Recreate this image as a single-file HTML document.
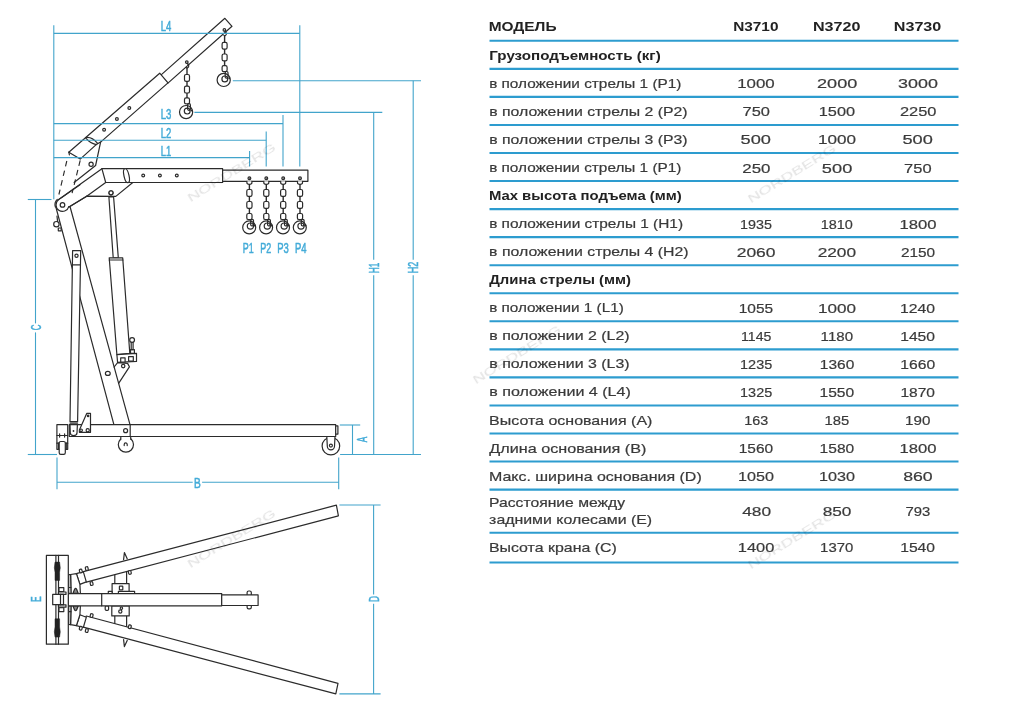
<!DOCTYPE html>
<html lang="ru"><head><meta charset="utf-8"><title>N3710 N3720 N3730</title>
<style>
html,body{margin:0;padding:0;background:#fff;}
body{width:1024px;height:713px;overflow:hidden;font-family:"Liberation Sans",sans-serif;}
svg{display:block;will-change:transform;}
.k{stroke:#2b2b2b;stroke-width:1.2;stroke-linejoin:round;stroke-linecap:round;}
.k2{stroke:#2b2b2b;stroke-width:1.4;}
.kd{stroke:#2b2b2b;stroke-width:1.15;stroke-dasharray:5.6 4.2;}
.b{stroke:#42a4cb;stroke-width:1.1;}
.tl{stroke:#2d9ccf;stroke-width:2.1;}
.bt{fill:#43abd8;stroke:#43abd8;stroke-width:0.5;font-family:"Liberation Sans",sans-serif;}
.tr{stroke:#3a3a3a;stroke-width:0.2;fill:#3a3a3a;font-family:"Liberation Sans",sans-serif;font-size:12.6px;}
.tn{stroke:#3a3a3a;stroke-width:0.2;fill:#3a3a3a;font-family:"Liberation Sans",sans-serif;font-size:13.7px;}
.tb{fill:#222;font-family:"Liberation Sans",sans-serif;font-size:12.4px;font-weight:bold;}
.th{fill:#222;font-family:"Liberation Sans",sans-serif;font-size:12px;font-weight:bold;}
.wm{fill:#e3e3e3;font-family:"Liberation Sans",sans-serif;font-size:10.5px;}
</style></head><body>
<svg width="1024" height="713" viewBox="0 0 1024 713">
<rect width="1024" height="713" fill="#fff"/>
<g id="side">
<path class="k" d="M224.90,18.30 L232.00,26.31 L167.64,83.35 L160.55,75.35 Z" fill="#fff"/>
<path class="k" d="M159.70,73.20 L168.00,82.90 L100.60,142.10 L96.20,144.60 L80.20,159.10 L68.80,152.20 Z" fill="#fff"/>
<path class="k" fill="#fff" d="M85.5,137.7 Q91.5,136.2 97.6,143.4 L96.2,144.6 Q90,143.5 85.5,137.7 Z"/>
<line class="k" x1="68.80" y1="152.20" x2="69.40" y2="154.80"/>
<circle class="k" cx="129.30" cy="108.00" r="1.40" fill="#fff"/>
<circle class="k" cx="116.90" cy="119.00" r="1.40" fill="#fff"/>
<circle class="k" cx="104.10" cy="129.80" r="1.40" fill="#fff"/>
<path class="k" d="M100.60,142.10 L95.60,165.50 L74.10,182.50" fill="none"/>
<circle class="k" cx="91.10" cy="164.20" r="2.10" fill="#fff"/>
<circle class="k" cx="224.40" cy="29.90" r="1.30" fill="#fff"/>
<path class="k" fill="none" d="M224.70,31.20 q2.2,1.2 1.4,3.6 q-1,1.6 -2.2,0.6"/>
<circle class="k" cx="186.80" cy="62.10" r="1.30" fill="#fff"/>
<path class="k" fill="none" d="M187.10,63.40 q2.2,1.2 1.4,3.6 q-1,1.6 -2.2,0.6"/>
<line class="k2" x1="224.60" y1="35.10" x2="224.60" y2="42.30"/>
<rect class="k" x="222.10" y="42.30" width="5.00" height="6.80" rx="1.60" fill="#fff"/>
<line class="k2" x1="224.60" y1="49.10" x2="224.60" y2="54.00"/>
<rect class="k" x="222.10" y="54.00" width="5.00" height="6.80" rx="1.60" fill="#fff"/>
<line class="k2" x1="224.60" y1="60.80" x2="224.60" y2="65.70"/>
<rect class="k" x="222.10" y="65.70" width="5.00" height="6.00" rx="1.60" fill="#fff"/>
<circle class="k" cx="223.70" cy="79.90" r="6.60" fill="#fff"/>
<circle class="k" cx="224.80" cy="78.90" r="2.90" fill="#fff"/>
<rect class="k" x="225.20" y="71.50" width="2.80" height="6.60" rx="1.20" fill="none"/>
<circle cx="229.30" cy="78.30" r="1.0" fill="#2b2b2b"/>
<line class="k2" x1="187.00" y1="67.30" x2="187.00" y2="74.50"/>
<rect class="k" x="184.50" y="74.50" width="5.00" height="6.80" rx="1.60" fill="#fff"/>
<line class="k2" x1="187.00" y1="81.30" x2="187.00" y2="86.20"/>
<rect class="k" x="184.50" y="86.20" width="5.00" height="6.80" rx="1.60" fill="#fff"/>
<line class="k2" x1="187.00" y1="93.00" x2="187.00" y2="97.90"/>
<rect class="k" x="184.50" y="97.90" width="5.00" height="6.00" rx="1.60" fill="#fff"/>
<circle class="k" cx="186.10" cy="112.10" r="6.60" fill="#fff"/>
<circle class="k" cx="187.20" cy="111.10" r="2.90" fill="#fff"/>
<rect class="k" x="187.60" y="103.70" width="2.80" height="6.60" rx="1.20" fill="none"/>
<circle cx="191.70" cy="110.50" r="1.0" fill="#2b2b2b"/>
<path class="k" d="M55.86,207.00 L69.58,205.00 L130.00,424.70 L113.90,424.70 Z" fill="#fff"/>
<ellipse class="k" cx="107.8" cy="373.4" rx="2.4" ry="2.0" fill="#fff"/>
<circle class="k" cx="56.40" cy="224.20" r="2.70" fill="#fff"/>
<rect class="k" x="58.30" y="228.00" width="2.90" height="2.80" rx="0.00" fill="#fff"/>
<line class="k" x1="57.00" y1="216.20" x2="57.60" y2="221.60"/>
<path class="k" d="M58.80,199.60 L101.90,168.70 L222.60,168.70 L222.60,182.50 L132.80,182.50 L115.80,196.40 L86.70,196.20 L69.00,206.90 L62.50,204.90 Z" fill="#fff"/>
<line class="k" x1="101.90" y1="168.70" x2="105.70" y2="182.50"/>
<line class="k" x1="105.70" y1="182.50" x2="132.80" y2="182.50"/>
<line class="k" x1="105.70" y1="182.50" x2="86.70" y2="196.20"/>
<ellipse class="k" cx="126.5" cy="175.7" rx="2.5" ry="7.1" fill="#fff" transform="rotate(-13 126.5 175.7)"/>
<circle class="k" cx="143.20" cy="175.50" r="1.40" fill="#fff"/>
<circle class="k" cx="159.90" cy="175.50" r="1.40" fill="#fff"/>
<circle class="k" cx="176.80" cy="175.50" r="1.40" fill="#fff"/>
<circle class="k" cx="111.00" cy="192.80" r="2.00" fill="#fff"/>
<rect class="k" x="222.60" y="170.20" width="85.30" height="11.10" rx="0.00" fill="#fff"/>
<circle class="k" cx="249.40" cy="178.20" r="1.40" fill="#fff"/>
<circle cx="249.4" cy="178.2" r="0.6" fill="#2b2b2b"/>
<path class="k" fill="#fff" d="M246.90,181.30 V182.80 Q246.90,184.30 249.40,184.30 Q251.90,184.30 251.90,182.80 V181.30"/>
<line class="k2" x1="249.40" y1="184.30" x2="249.40" y2="189.50"/>
<rect class="k" x="246.80" y="189.50" width="5.20" height="6.80" rx="1.60" fill="#fff"/>
<line class="k2" x1="249.40" y1="196.30" x2="249.40" y2="201.50"/>
<rect class="k" x="246.80" y="201.50" width="5.20" height="6.80" rx="1.60" fill="#fff"/>
<line class="k2" x1="249.40" y1="208.30" x2="249.40" y2="213.50"/>
<rect class="k" x="246.80" y="213.50" width="5.20" height="6.00" rx="1.60" fill="#fff"/>
<circle class="k" cx="249.20" cy="227.40" r="6.50" fill="#fff"/>
<circle class="k" cx="250.40" cy="226.10" r="3.10" fill="#fff"/>
<rect class="k" x="250.70" y="219.30" width="2.80" height="6.60" rx="1.20" fill="none"/>
<circle cx="254.70" cy="225.60" r="1.0" fill="#2b2b2b"/>
<circle class="k" cx="266.30" cy="178.20" r="1.40" fill="#fff"/>
<circle cx="266.3" cy="178.2" r="0.6" fill="#2b2b2b"/>
<path class="k" fill="#fff" d="M263.80,181.30 V182.80 Q263.80,184.30 266.30,184.30 Q268.80,184.30 268.80,182.80 V181.30"/>
<line class="k2" x1="266.30" y1="184.30" x2="266.30" y2="189.50"/>
<rect class="k" x="263.70" y="189.50" width="5.20" height="6.80" rx="1.60" fill="#fff"/>
<line class="k2" x1="266.30" y1="196.30" x2="266.30" y2="201.50"/>
<rect class="k" x="263.70" y="201.50" width="5.20" height="6.80" rx="1.60" fill="#fff"/>
<line class="k2" x1="266.30" y1="208.30" x2="266.30" y2="213.50"/>
<rect class="k" x="263.70" y="213.50" width="5.20" height="6.00" rx="1.60" fill="#fff"/>
<circle class="k" cx="266.10" cy="227.40" r="6.50" fill="#fff"/>
<circle class="k" cx="267.30" cy="226.10" r="3.10" fill="#fff"/>
<rect class="k" x="267.60" y="219.30" width="2.80" height="6.60" rx="1.20" fill="none"/>
<circle cx="271.60" cy="225.60" r="1.0" fill="#2b2b2b"/>
<circle class="k" cx="283.20" cy="178.20" r="1.40" fill="#fff"/>
<circle cx="283.2" cy="178.2" r="0.6" fill="#2b2b2b"/>
<path class="k" fill="#fff" d="M280.70,181.30 V182.80 Q280.70,184.30 283.20,184.30 Q285.70,184.30 285.70,182.80 V181.30"/>
<line class="k2" x1="283.20" y1="184.30" x2="283.20" y2="189.50"/>
<rect class="k" x="280.60" y="189.50" width="5.20" height="6.80" rx="1.60" fill="#fff"/>
<line class="k2" x1="283.20" y1="196.30" x2="283.20" y2="201.50"/>
<rect class="k" x="280.60" y="201.50" width="5.20" height="6.80" rx="1.60" fill="#fff"/>
<line class="k2" x1="283.20" y1="208.30" x2="283.20" y2="213.50"/>
<rect class="k" x="280.60" y="213.50" width="5.20" height="6.00" rx="1.60" fill="#fff"/>
<circle class="k" cx="283.00" cy="227.40" r="6.50" fill="#fff"/>
<circle class="k" cx="284.20" cy="226.10" r="3.10" fill="#fff"/>
<rect class="k" x="284.50" y="219.30" width="2.80" height="6.60" rx="1.20" fill="none"/>
<circle cx="288.50" cy="225.60" r="1.0" fill="#2b2b2b"/>
<circle class="k" cx="300.00" cy="178.20" r="1.40" fill="#fff"/>
<circle cx="300.0" cy="178.2" r="0.6" fill="#2b2b2b"/>
<path class="k" fill="#fff" d="M297.50,181.30 V182.80 Q297.50,184.30 300.00,184.30 Q302.50,184.30 302.50,182.80 V181.30"/>
<line class="k2" x1="300.00" y1="184.30" x2="300.00" y2="189.50"/>
<rect class="k" x="297.40" y="189.50" width="5.20" height="6.80" rx="1.60" fill="#fff"/>
<line class="k2" x1="300.00" y1="196.30" x2="300.00" y2="201.50"/>
<rect class="k" x="297.40" y="201.50" width="5.20" height="6.80" rx="1.60" fill="#fff"/>
<line class="k2" x1="300.00" y1="208.30" x2="300.00" y2="213.50"/>
<rect class="k" x="297.40" y="213.50" width="5.20" height="6.00" rx="1.60" fill="#fff"/>
<circle class="k" cx="299.80" cy="227.40" r="6.50" fill="#fff"/>
<circle class="k" cx="301.00" cy="226.10" r="3.10" fill="#fff"/>
<rect class="k" x="301.30" y="219.30" width="2.80" height="6.60" rx="1.20" fill="none"/>
<circle cx="305.30" cy="225.60" r="1.0" fill="#2b2b2b"/>
<circle cx="62.5" cy="204.9" r="6.5" fill="#fff"/>
<line class="k" x1="58.80" y1="199.60" x2="80.00" y2="184.66"/>
<line class="k" x1="69.00" y1="206.90" x2="86.70" y2="196.20"/>
<path class="k" fill="none" d="M58.76,199.59 A6.5,6.5 0 1 0 68.8,206.6"/>
<path class="k" fill="none" stroke-width="1.5" d="M57.3,199.4 A7.3,7.3 0 0 0 55.4,207.0"/>
<circle class="k" cx="62.50" cy="204.90" r="2.30" fill="#fff"/>
<line class="kd" x1="66.8" y1="161" x2="58.9" y2="194.5"/>
<line class="kd" x1="80.2" y1="160.4" x2="72.1" y2="193.2"/>
<path class="k" d="M72.60,250.60 L80.70,250.60 L77.60,421.60 L70.00,421.60 Z" fill="#fff"/>
<line class="k" x1="72.40" y1="264.90" x2="80.45" y2="264.90"/>
<circle class="k" cx="76.50" cy="255.80" r="1.60" fill="#fff"/>
<line class="k" x1="70.00" y1="423.10" x2="77.60" y2="423.10"/>
<path class="k" d="M108.90,197.00 L113.60,197.00 L118.30,257.80 L113.20,257.80 Z" fill="#fff"/>
<circle class="k" cx="111.00" cy="192.80" r="2.00" fill="#fff"/>
<path class="k" d="M109.20,257.80 L122.70,257.80 L129.80,353.30 L116.90,354.70 Z" fill="#fff"/>
<line class="k" x1="109.30" y1="260.00" x2="122.90" y2="260.00"/>
<path class="k" d="M116.90,354.70 L136.50,353.30 L136.50,361.40 L117.60,362.40 Z" fill="#fff"/>
<rect class="k" x="120.70" y="357.90" width="4.40" height="4.10" rx="0.00" fill="#fff"/>
<rect class="k" x="128.60" y="356.60" width="4.70" height="4.40" rx="0.00" fill="#fff"/>
<rect class="k" x="130.50" y="349.70" width="3.90" height="3.70" rx="0.00" fill="#fff"/>
<rect class="k" x="131.20" y="342.30" width="1.90" height="7.40" rx="0.00" fill="#fff"/>
<circle class="k" cx="132.10" cy="340.00" r="2.40" fill="#fff"/>
<path class="k" d="M114.13,367.00 L117.60,362.60 L127.60,363.40 L129.40,366.80 L118.62,383.30" fill="none"/>
<circle class="k" cx="123.20" cy="366.10" r="1.70" fill="#fff"/>
<circle class="k" cx="125.90" cy="444.60" r="7.60" fill="#fff"/>
<rect x="120.8" y="436" width="9.9" height="4.2" fill="#fff"/>
<line class="k" x1="120.80" y1="436.50" x2="120.80" y2="439.60"/>
<line class="k" x1="130.70" y1="436.50" x2="130.70" y2="439.30"/>
<path class="k" fill="none" d="M124.2,445.6 V444.4 A1.5,1.5 0 0 1 127.2,444.4 V445.6"/>
<circle class="k" cx="330.90" cy="446.10" r="8.80" fill="#fff"/>
<path class="k" fill="#fff" d="M326.8,436.5 L327.3,446.2 A3.6,3.6 0 0 0 334.5,446.2 L335.0,436.5"/>
<circle class="k" cx="330.90" cy="445.60" r="1.50" fill="#fff"/>
<rect class="k" x="69.30" y="424.70" width="266.40" height="11.80" rx="0.00" fill="#fff"/>
<rect class="k" x="335.70" y="425.90" width="2.20" height="8.20" rx="0.00" fill="#fff"/>
<line class="k" x1="130.20" y1="424.70" x2="130.20" y2="436.50"/>
<circle class="k" cx="125.60" cy="430.70" r="2.00" fill="#fff"/>
<path class="k" fill="#fff" d="M70.0,424.7 L70.3,433.0 Q70.5,435.6 73.6,435.6 Q76.8,435.6 77.0,433.0 L77.4,424.7 Z"/>
<circle cx="73.5" cy="431.0" r="0.9" fill="#2b2b2b"/>
<path class="k" d="M86.70,413.40 L90.50,413.40 L90.50,432.30 L79.40,432.30 L79.40,430.00 Z" fill="#fff"/>
<circle class="k" cx="88.10" cy="415.90" r="0.70" fill="#fff"/>
<circle class="k" cx="81.10" cy="430.30" r="1.30" fill="#fff"/>
<circle class="k" cx="87.70" cy="430.30" r="1.60" fill="#fff"/>
<rect class="k" x="56.90" y="424.70" width="10.80" height="24.60" rx="0.00" fill="#fff"/>
<line class="k" x1="56.90" y1="435.50" x2="67.70" y2="435.50"/>
<line class="k" x1="56.90" y1="443.20" x2="67.70" y2="443.20"/>
<line class="k" x1="59.60" y1="433.90" x2="59.60" y2="437.10"/>
<line class="k" x1="64.60" y1="433.90" x2="64.60" y2="437.10"/>
<line class="k" x1="58.40" y1="443.20" x2="58.40" y2="449.30"/>
<line class="k" x1="66.30" y1="443.20" x2="66.30" y2="449.30"/>
<rect class="k" x="59.20" y="441.50" width="6.10" height="12.80" rx="1.60" fill="#fff"/>
</g>
<g id="top">
<rect class="k" x="114.80" y="570.00" width="11.80" height="59.00" rx="0.00" fill="#fff"/>
<path class="k" d="M80.50,572.30 L336.40,505.20 L338.40,515.80 L86.30,582.20 Z" fill="#fff"/>
<path class="k" d="M80.50,626.40 L335.80,693.90 L338.00,683.40 L86.30,616.00 Z" fill="#fff"/>
<path class="k" d="M76.40,573.60 L83.30,571.70 L86.30,581.90 L79.90,584.40 Z" fill="#fff"/>
<path class="k" d="M76.40,625.60 L83.30,627.50 L86.30,617.30 L79.90,614.80 Z" fill="#fff"/>
<path class="k" d="M70.60,574.50 L76.40,573.60 L79.90,584.40 L80.40,593.60 L71.00,593.60 Z" fill="#fff"/>
<path class="k" d="M70.60,624.70 L76.40,625.60 L79.90,614.80 L80.40,605.60 L71.00,605.60 Z" fill="#fff"/>
<path class="k" d="M68.70,574.70 L70.60,574.50 L71.00,593.40 L68.70,593.40 Z" fill="#fff"/>
<line class="k" x1="68.70" y1="587.50" x2="70.90" y2="587.50"/>
<path class="k" fill="#8a8a8a" d="M72.9,593.40 L74.6,589.30 Q75.6,587.60 76.6,589.30 L78.3,593.40 Z"/>
<path class="k" d="M68.70,624.50 L70.60,624.70 L71.00,605.80 L68.70,605.80 Z" fill="#fff"/>
<line class="k" x1="68.70" y1="611.70" x2="70.90" y2="611.70"/>
<path class="k" fill="#8a8a8a" d="M72.9,605.80 L74.6,609.90 Q75.6,611.60 76.6,609.90 L78.3,605.80 Z"/>
<rect class="k" x="79.50" y="569.20" width="2.6" height="3.6" rx="0.9" fill="#fff" transform="rotate(-14 80.80 571.00)"/>
<rect class="k" x="79.50" y="626.40" width="2.6" height="3.6" rx="0.9" fill="#fff" transform="rotate(14 80.80 628.20)"/>
<rect class="k" x="85.50" y="566.80" width="2.6" height="3.6" rx="0.9" fill="#fff" transform="rotate(-14 86.80 568.60)"/>
<rect class="k" x="85.50" y="628.80" width="2.6" height="3.6" rx="0.9" fill="#fff" transform="rotate(14 86.80 630.60)"/>
<rect class="k" x="90.30" y="581.80" width="2.6" height="3.6" rx="0.9" fill="#fff" transform="rotate(-14 91.60 583.60)"/>
<rect class="k" x="90.30" y="613.80" width="2.6" height="3.6" rx="0.9" fill="#fff" transform="rotate(14 91.60 615.60)"/>
<rect class="k" x="128.50" y="570.60" width="2.6" height="3.6" rx="0.9" fill="#fff" transform="rotate(-14 129.80 572.40)"/>
<rect class="k" x="128.50" y="625.00" width="2.6" height="3.6" rx="0.9" fill="#fff" transform="rotate(14 129.80 626.80)"/>
<path class="k" fill="none" d="M123.6,559.6 L124.4,552.6 L127.2,558.8"/>
<path class="k" fill="none" d="M123.6,639.60 L124.4,646.60 L127.2,640.40"/>
<rect class="k" x="112.10" y="583.60" width="17.00" height="10.00" rx="0.00" fill="#fff"/>
<rect class="k" x="119.40" y="586.10" width="3.40" height="3.80" rx="0.50" fill="#fff"/>
<rect class="k" x="118.40" y="591.30" width="16.20" height="2.30" rx="0.00" fill="#fff"/>
<rect class="k" x="108.30" y="591.30" width="3.80" height="2.30" rx="0.00" fill="#fff"/>
<rect class="k" x="111.80" y="605.80" width="17.40" height="10.10" rx="0.00" fill="#fff"/>
<circle class="k" cx="120.30" cy="611.50" r="1.60" fill="#fff"/>
<circle class="k" cx="121.40" cy="608.20" r="1.20" fill="#fff"/>
<rect class="k" x="105.20" y="605.80" width="3.40" height="4.60" rx="1.20" fill="#fff"/>
<rect class="k" x="68.30" y="593.60" width="153.40" height="12.20" rx="0.00" fill="#fff"/>
<line class="k" x1="101.70" y1="593.60" x2="101.70" y2="605.80"/>
<rect class="k" x="247.10" y="591.00" width="4.20" height="17.80" rx="1.60" fill="#fff"/>
<rect class="k" x="221.70" y="594.90" width="36.40" height="10.60" rx="0.00" fill="#fff"/>
<rect class="k" x="46.40" y="555.40" width="21.90" height="88.80" rx="0.00" fill="#fff"/>
<line class="k" x1="55.90" y1="555.40" x2="55.90" y2="644.20"/>
<line class="k" x1="58.50" y1="555.40" x2="58.50" y2="644.20"/>
<path fill="#222" stroke="#222" stroke-width="0.5" d="M55.00,562.10 L59.60,562.10 Q60.90,568.25 59.60,572.25 L59.60,580.40 L55.00,580.40 L55.00,572.25 Q53.70,568.25 55.00,562.10 Z"/>
<g transform="translate(0 1199.20) scale(1 -1)">
<path fill="#222" stroke="#222" stroke-width="0.5" d="M55.00,562.10 L59.60,562.10 Q60.90,568.25 59.60,572.25 L59.60,580.40 L55.00,580.40 L55.00,572.25 Q53.70,568.25 55.00,562.10 Z"/>
</g>
<rect class="k" x="59.00" y="587.60" width="4.80" height="4.00" rx="0.00" fill="#fff"/>
<rect class="k" x="59.00" y="607.60" width="4.80" height="4.00" rx="0.00" fill="#fff"/>
<rect class="k" x="58.50" y="592.00" width="7.50" height="2.40" rx="0.00" fill="#fff"/>
<rect class="k" x="58.50" y="604.80" width="7.50" height="2.40" rx="0.00" fill="#fff"/>
<rect class="k" x="52.70" y="594.30" width="10.80" height="10.40" rx="0.00" fill="#fff"/>
<line class="k" x1="60.50" y1="594.30" x2="60.50" y2="604.70"/>
</g>
<g id="dims">
<line class="b" x1="53.80" y1="25.30" x2="53.80" y2="199.30"/>
<line class="b" x1="53.80" y1="33.40" x2="299.80" y2="33.40"/>
<line class="b" x1="299.80" y1="25.30" x2="299.80" y2="166.60"/>
<line class="b" x1="53.80" y1="123.60" x2="283.00" y2="123.60"/>
<line class="b" x1="283.00" y1="115.00" x2="283.00" y2="166.60"/>
<line class="b" x1="53.80" y1="140.30" x2="266.20" y2="140.30"/>
<line class="b" x1="266.20" y1="131.50" x2="266.20" y2="166.60"/>
<line class="b" x1="53.80" y1="157.60" x2="249.60" y2="157.60"/>
<line class="b" x1="249.60" y1="151.00" x2="249.60" y2="166.60"/>
<line class="b" x1="232.80" y1="80.80" x2="421.00" y2="80.80"/>
<line class="b" x1="413.20" y1="80.80" x2="413.20" y2="259.80"/>
<line class="b" x1="413.20" y1="275.20" x2="413.20" y2="454.40"/>
<line class="b" x1="194.40" y1="112.40" x2="382.30" y2="112.40"/>
<line class="b" x1="373.70" y1="112.40" x2="373.70" y2="259.80"/>
<line class="b" x1="373.70" y1="275.20" x2="373.70" y2="454.40"/>
<line class="b" x1="340.10" y1="454.50" x2="421.00" y2="454.50"/>
<line class="b" x1="339.80" y1="425.00" x2="360.20" y2="425.00"/>
<line class="b" x1="352.50" y1="425.00" x2="352.50" y2="454.50"/>
<line class="b" x1="27.80" y1="199.50" x2="51.50" y2="199.50"/>
<line class="b" x1="35.50" y1="199.50" x2="35.50" y2="323.40"/>
<line class="b" x1="35.50" y1="332.40" x2="35.50" y2="454.50"/>
<line class="b" x1="27.80" y1="454.50" x2="57.00" y2="454.50"/>
<line class="b" x1="57.00" y1="457.50" x2="57.00" y2="489.30"/>
<line class="b" x1="338.70" y1="457.50" x2="338.70" y2="489.30"/>
<line class="b" x1="57.00" y1="482.30" x2="192.70" y2="482.30"/>
<line class="b" x1="202.10" y1="482.30" x2="338.70" y2="482.30"/>
<line class="b" x1="339.40" y1="505.00" x2="380.60" y2="505.00"/>
<line class="b" x1="339.40" y1="693.90" x2="380.60" y2="693.90"/>
<line class="b" x1="373.60" y1="505.00" x2="373.60" y2="594.60"/>
<line class="b" x1="373.60" y1="603.80" x2="373.60" y2="693.90"/>
</g>
<g id="dimlabels">
<text class="bt" x="166.1" y="30.9" font-size="13.8" textLength="10.6" lengthAdjust="spacingAndGlyphs" text-anchor="middle">L4</text>
<text class="bt" x="166.1" y="118.8" font-size="13.8" textLength="10.7" lengthAdjust="spacingAndGlyphs" text-anchor="middle">L3</text>
<text class="bt" x="166.0" y="137.6" font-size="13.8" textLength="10.6" lengthAdjust="spacingAndGlyphs" text-anchor="middle">L2</text>
<text class="bt" x="166.0" y="156.2" font-size="13.8" textLength="10.5" lengthAdjust="spacingAndGlyphs" text-anchor="middle">L1</text>
<text class="bt" x="248.3" y="252.9" font-size="13.8" textLength="10.9" lengthAdjust="spacingAndGlyphs" text-anchor="middle">P1</text>
<text class="bt" x="265.8" y="252.9" font-size="13.8" textLength="11.0" lengthAdjust="spacingAndGlyphs" text-anchor="middle">P2</text>
<text class="bt" x="283.1" y="252.9" font-size="13.8" textLength="11.6" lengthAdjust="spacingAndGlyphs" text-anchor="middle">P3</text>
<text class="bt" x="300.7" y="252.9" font-size="13.8" textLength="11.6" lengthAdjust="spacingAndGlyphs" text-anchor="middle">P4</text>
<text class="bt" x="378.8" y="268.0" font-size="13.8" textLength="10.6" lengthAdjust="spacingAndGlyphs" text-anchor="middle" transform="rotate(-90 378.8 268.0)">H1</text>
<text class="bt" x="418.4" y="267.6" font-size="13.8" textLength="11.5" lengthAdjust="spacingAndGlyphs" text-anchor="middle" transform="rotate(-90 418.4 267.6)">H2</text>
<text class="bt" x="40.9" y="327.5" font-size="13.8" textLength="5.7" lengthAdjust="spacingAndGlyphs" text-anchor="middle" transform="rotate(-90 40.9 327.5)">C</text>
<text class="bt" x="367.3" y="439.6" font-size="13.8" textLength="5.5" lengthAdjust="spacingAndGlyphs" text-anchor="middle" transform="rotate(-90 367.3 439.6)">A</text>
<text class="bt" x="197.3" y="487.9" font-size="13.8" textLength="6.8" lengthAdjust="spacingAndGlyphs" text-anchor="middle">B</text>
<text class="bt" x="379.0" y="599.0" font-size="13.8" textLength="6.0" lengthAdjust="spacingAndGlyphs" text-anchor="middle" transform="rotate(-90 379.0 599.0)">D</text>
<text class="bt" x="40.9" y="599.2" font-size="13.8" textLength="5.6" lengthAdjust="spacingAndGlyphs" text-anchor="middle" transform="rotate(-90 40.9 599.2)">E</text>
</g>
<g id="table">
<line class="tl" x1="489.5" y1="40.80" x2="958.5" y2="40.80"/>
<line class="tl" x1="489.5" y1="68.85" x2="958.5" y2="68.85"/>
<line class="tl" x1="489.5" y1="96.90" x2="958.5" y2="96.90"/>
<line class="tl" x1="489.5" y1="124.95" x2="958.5" y2="124.95"/>
<line class="tl" x1="489.5" y1="153.00" x2="958.5" y2="153.00"/>
<line class="tl" x1="489.5" y1="181.05" x2="958.5" y2="181.05"/>
<line class="tl" x1="489.5" y1="209.10" x2="958.5" y2="209.10"/>
<line class="tl" x1="489.5" y1="237.15" x2="958.5" y2="237.15"/>
<line class="tl" x1="489.5" y1="265.20" x2="958.5" y2="265.20"/>
<line class="tl" x1="489.5" y1="293.25" x2="958.5" y2="293.25"/>
<line class="tl" x1="489.5" y1="321.30" x2="958.5" y2="321.30"/>
<line class="tl" x1="489.5" y1="349.35" x2="958.5" y2="349.35"/>
<line class="tl" x1="489.5" y1="377.40" x2="958.5" y2="377.40"/>
<line class="tl" x1="489.5" y1="405.45" x2="958.5" y2="405.45"/>
<line class="tl" x1="489.5" y1="433.50" x2="958.5" y2="433.50"/>
<line class="tl" x1="489.5" y1="461.55" x2="958.5" y2="461.55"/>
<line class="tl" x1="489.5" y1="489.60" x2="958.5" y2="489.60"/>
<line class="tl" x1="489.5" y1="532.70" x2="958.5" y2="532.70"/>
<line class="tl" x1="489.5" y1="562.50" x2="958.5" y2="562.50"/>
<text class="th" x="488.66" y="30.8" textLength="67.90" lengthAdjust="spacingAndGlyphs">МОДЕЛЬ</text>
<text class="th" x="733.20" y="30.5" textLength="45.26" lengthAdjust="spacingAndGlyphs">N3710</text>
<text class="th" x="812.91" y="30.5" textLength="47.51" lengthAdjust="spacingAndGlyphs">N3720</text>
<text class="th" x="893.76" y="30.5" textLength="47.60" lengthAdjust="spacingAndGlyphs">N3730</text>
<text class="tb" x="489.32" y="59.7" textLength="171.40" lengthAdjust="spacingAndGlyphs">Грузоподъемность (кг)</text>
<text class="tr" x="489.17" y="87.8" textLength="192.22" lengthAdjust="spacingAndGlyphs">в положении стрелы 1 (P1)</text>
<text class="tn" x="737.15" y="88.3" textLength="37.50" lengthAdjust="spacingAndGlyphs">1000</text>
<text class="tn" x="817.06" y="88.3" textLength="40.28" lengthAdjust="spacingAndGlyphs">2000</text>
<text class="tn" x="898.04" y="88.3" textLength="39.86" lengthAdjust="spacingAndGlyphs">3000</text>
<text class="tr" x="489.15" y="115.9" textLength="198.41" lengthAdjust="spacingAndGlyphs">в положении стрелы 2 (P2)</text>
<text class="tn" x="742.53" y="116.4" textLength="27.37" lengthAdjust="spacingAndGlyphs">750</text>
<text class="tn" x="818.81" y="116.4" textLength="36.32" lengthAdjust="spacingAndGlyphs">1500</text>
<text class="tn" x="899.90" y="116.4" textLength="36.51" lengthAdjust="spacingAndGlyphs">2250</text>
<text class="tr" x="489.15" y="143.9" textLength="198.41" lengthAdjust="spacingAndGlyphs">в положении стрелы 3 (P3)</text>
<text class="tn" x="740.62" y="144.4" textLength="30.39" lengthAdjust="spacingAndGlyphs">500</text>
<text class="tn" x="818.01" y="144.4" textLength="38.02" lengthAdjust="spacingAndGlyphs">1000</text>
<text class="tn" x="902.43" y="144.4" textLength="30.32" lengthAdjust="spacingAndGlyphs">500</text>
<text class="tr" x="489.17" y="172.0" textLength="192.22" lengthAdjust="spacingAndGlyphs">в положении стрелы 1 (P1)</text>
<text class="tn" x="742.29" y="172.5" textLength="28.14" lengthAdjust="spacingAndGlyphs">250</text>
<text class="tn" x="821.88" y="172.5" textLength="30.40" lengthAdjust="spacingAndGlyphs">500</text>
<text class="tn" x="904.14" y="172.5" textLength="27.46" lengthAdjust="spacingAndGlyphs">750</text>
<text class="tb" x="489.00" y="200.0" textLength="192.69" lengthAdjust="spacingAndGlyphs">Max высота подъема (мм)</text>
<text class="tr" x="489.15" y="228.1" textLength="193.90" lengthAdjust="spacingAndGlyphs">в положении стрелы 1 (H1)</text>
<text class="tn" x="740.14" y="228.6" textLength="31.91" lengthAdjust="spacingAndGlyphs">1935</text>
<text class="tn" x="820.65" y="228.6" textLength="32.14" lengthAdjust="spacingAndGlyphs">1810</text>
<text class="tn" x="899.43" y="228.6" textLength="37.02" lengthAdjust="spacingAndGlyphs">1800</text>
<text class="tr" x="489.13" y="256.1" textLength="199.53" lengthAdjust="spacingAndGlyphs">в положении стрелы 4 (H2)</text>
<text class="tn" x="736.71" y="256.6" textLength="38.84" lengthAdjust="spacingAndGlyphs">2060</text>
<text class="tn" x="817.68" y="256.6" textLength="38.41" lengthAdjust="spacingAndGlyphs">2200</text>
<text class="tn" x="900.92" y="256.6" textLength="34.19" lengthAdjust="spacingAndGlyphs">2150</text>
<text class="tb" x="489.23" y="284.1" textLength="141.84" lengthAdjust="spacingAndGlyphs">Длина стрелы (мм)</text>
<text class="tr" x="489.18" y="312.2" textLength="134.58" lengthAdjust="spacingAndGlyphs">в положении 1 (L1)</text>
<text class="tn" x="738.70" y="312.8" textLength="34.40" lengthAdjust="spacingAndGlyphs">1055</text>
<text class="tn" x="818.01" y="312.8" textLength="38.02" lengthAdjust="spacingAndGlyphs">1000</text>
<text class="tn" x="900.10" y="312.8" textLength="35.04" lengthAdjust="spacingAndGlyphs">1240</text>
<text class="tr" x="489.27" y="340.3" textLength="140.35" lengthAdjust="spacingAndGlyphs">в положении 2 (L2)</text>
<text class="tn" x="741.09" y="340.8" textLength="30.33" lengthAdjust="spacingAndGlyphs">1145</text>
<text class="tn" x="820.61" y="340.8" textLength="32.44" lengthAdjust="spacingAndGlyphs">1180</text>
<text class="tn" x="900.19" y="340.8" textLength="34.85" lengthAdjust="spacingAndGlyphs">1450</text>
<text class="tr" x="489.29" y="368.4" textLength="140.32" lengthAdjust="spacingAndGlyphs">в положении 3 (L3)</text>
<text class="tn" x="740.07" y="368.9" textLength="32.17" lengthAdjust="spacingAndGlyphs">1235</text>
<text class="tn" x="819.86" y="368.9" textLength="34.46" lengthAdjust="spacingAndGlyphs">1360</text>
<text class="tn" x="900.29" y="368.9" textLength="34.86" lengthAdjust="spacingAndGlyphs">1660</text>
<text class="tr" x="489.22" y="396.4" textLength="141.61" lengthAdjust="spacingAndGlyphs">в положении 4 (L4)</text>
<text class="tn" x="740.07" y="396.9" textLength="32.17" lengthAdjust="spacingAndGlyphs">1325</text>
<text class="tn" x="819.52" y="396.9" textLength="34.71" lengthAdjust="spacingAndGlyphs">1550</text>
<text class="tn" x="900.46" y="396.9" textLength="34.54" lengthAdjust="spacingAndGlyphs">1870</text>
<text class="tr" x="489.06" y="424.5" textLength="163.38" lengthAdjust="spacingAndGlyphs">Высота основания (A)</text>
<text class="tn" x="744.18" y="425.0" textLength="23.96" lengthAdjust="spacingAndGlyphs">163</text>
<text class="tn" x="824.50" y="425.0" textLength="24.72" lengthAdjust="spacingAndGlyphs">185</text>
<text class="tn" x="905.12" y="425.0" textLength="25.30" lengthAdjust="spacingAndGlyphs">190</text>
<text class="tr" x="489.37" y="452.5" textLength="157.01" lengthAdjust="spacingAndGlyphs">Длина основания (B)</text>
<text class="tn" x="738.69" y="453.0" textLength="34.40" lengthAdjust="spacingAndGlyphs">1560</text>
<text class="tn" x="819.62" y="453.0" textLength="34.60" lengthAdjust="spacingAndGlyphs">1580</text>
<text class="tn" x="899.43" y="453.0" textLength="37.02" lengthAdjust="spacingAndGlyphs">1800</text>
<text class="tr" x="488.92" y="480.6" textLength="212.81" lengthAdjust="spacingAndGlyphs">Макс. ширина основания (D)</text>
<text class="tn" x="737.97" y="481.1" textLength="35.94" lengthAdjust="spacingAndGlyphs">1050</text>
<text class="tn" x="819.11" y="481.1" textLength="35.99" lengthAdjust="spacingAndGlyphs">1030</text>
<text class="tn" x="903.18" y="481.1" textLength="29.54" lengthAdjust="spacingAndGlyphs">860</text>
<text class="tr" x="489.04" y="506.9" textLength="135.99" lengthAdjust="spacingAndGlyphs">Расстояние между</text>
<text class="tr" x="489.11" y="524.1" textLength="162.99" lengthAdjust="spacingAndGlyphs">задними колесами (E)</text>
<text class="tn" x="742.18" y="516.0" textLength="28.89" lengthAdjust="spacingAndGlyphs">480</text>
<text class="tn" x="822.69" y="516.0" textLength="28.76" lengthAdjust="spacingAndGlyphs">850</text>
<text class="tn" x="905.56" y="516.0" textLength="24.83" lengthAdjust="spacingAndGlyphs">793</text>
<text class="tr" x="488.92" y="551.9" textLength="127.97" lengthAdjust="spacingAndGlyphs">Высота крана (C)</text>
<text class="tn" x="737.79" y="552.2" textLength="36.54" lengthAdjust="spacingAndGlyphs">1400</text>
<text class="tn" x="820.12" y="552.2" textLength="33.13" lengthAdjust="spacingAndGlyphs">1370</text>
<text class="tn" x="900.19" y="552.2" textLength="34.85" lengthAdjust="spacingAndGlyphs">1540</text>
</g>
<g id="wm" style="mix-blend-mode:multiply">
<text class="wm" x="231.5" y="172.5" textLength="101" lengthAdjust="spacingAndGlyphs" text-anchor="middle" transform="rotate(-31.6 231.5 172.5) translate(0 3.5)">NORDBERG</text>
<text class="wm" x="792" y="174" textLength="101" lengthAdjust="spacingAndGlyphs" text-anchor="middle" transform="rotate(-31.6 792 174) translate(0 3.5)">NORDBERG</text>
<text class="wm" x="517" y="355" textLength="101" lengthAdjust="spacingAndGlyphs" text-anchor="middle" transform="rotate(-31.6 517 355) translate(0 3.5)">NORDBERG</text>
<text class="wm" x="231.5" y="538.7" textLength="101" lengthAdjust="spacingAndGlyphs" text-anchor="middle" transform="rotate(-31.6 231.5 538.7) translate(0 3.5)">NORDBERG</text>
<text class="wm" x="792" y="540" textLength="101" lengthAdjust="spacingAndGlyphs" text-anchor="middle" transform="rotate(-31.6 792 540) translate(0 3.5)">NORDBERG</text>
</g>
</svg>
</body></html>
